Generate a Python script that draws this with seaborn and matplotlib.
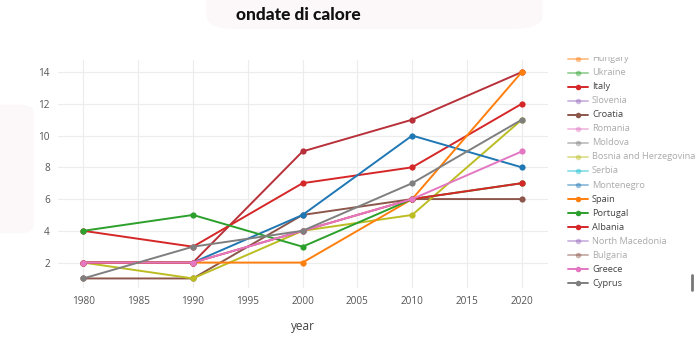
import numpy as np
import pandas as pd
import matplotlib
matplotlib.use("Agg")
import matplotlib.pyplot as plt
from matplotlib.patches import FancyBboxPatch
from matplotlib.lines import Line2D
import seaborn as sns

# ---- data -------------------------------------------------------------
years = [1980, 1990, 2000, 2010, 2020]

italy = [4, 3, 7, 8, 12]
croatia = [1, 1, 5, 6, 6]
bosnia = [2, 1, 4, 5, 11]
montenegro = [2, 2, 5, 10, 8]
spain = [2, 2, 2, 6, 14]
portugal = [4, 5, 3, 6, 7]
albania = [2, 2, 4, 6, 7]
greece = [2, 2, 4, 6, 9]
cyprus = [1, 3, 4, 7, 11]
red_extra = [2, 2, 9, 11, 14]

legend_names = ["Hungary", "Ukraine", "Italy", "Slovenia", "Croatia", "Romania",
                "Moldova", "Bosnia and Herzegovina", "Serbia", "Montenegro",
                "Spain", "Portugal", "Albania", "North Macedonia", "Bulgaria",
                "Greece", "Cyprus"]
legend_active = [False, False, True, False, True, False, False, False, False,
                 False, True, True, True, False, False, True, True]
y_ticks = [2, 4, 6, 8, 10, 12, 14]
x_ticks = [1980, 1985, 1990, 1995, 2000, 2005, 2010, 2015, 2020]

# plotly / d3 category10 cycle
c10 = ["#1f77b4", "#ff7f0e", "#2ca02c", "#d62728", "#9467bd",
       "#8c564b", "#e377c2", "#7f7f7f", "#bcbd22", "#17becf"]
legend_colors = [c10[(i + 1) % 10] for i in range(len(legend_names))]

series = {
    "red_extra": (red_extra, "#b8303a"),
    "Italy": (italy, c10[3]),
    "Croatia": (croatia, c10[5]),
    "Bosnia and Herzegovina": (bosnia, c10[8]),
    "Montenegro": (montenegro, "#1f77b4"),
    "Spain": (spain, c10[1]),
    "Portugal": (portugal, c10[2]),
    "Albania": (albania, c10[3]),
    "Greece": (greece, c10[6]),
    "Cyprus": (cyprus, c10[7]),
}

df = pd.DataFrame([
    {"year": y, "value": v, "country": name}
    for name, (vals, _) in series.items()
    for y, v in zip(years, vals)
])
order = list(series.keys())
palette = {k: c for k, (_, c) in series.items()}

# ---- figure -----------------------------------------------------------
sns.set_theme(style="whitegrid")
plt.rcParams["font.family"] = ["Open Sans", "DejaVu Sans"]

W, H = 700, 338
fig = plt.figure(figsize=(W / 100, H / 100), dpi=100)
fig.patch.set_facecolor("white")

# soft rounded panels behind the title and at the left edge
fig.patches.append(FancyBboxPatch((0.295, 0.915), 0.48, 0.12,
                                  boxstyle="round,pad=0,rounding_size=0.04",
                                  transform=fig.transFigure, facecolor="#fcf8f9",
                                  edgecolor="none", zorder=0))
fig.patches.append(FancyBboxPatch((-0.02, 0.31), 0.068, 0.38,
                                  boxstyle="round,pad=0,rounding_size=0.02",
                                  transform=fig.transFigure, facecolor="#fcf8f9",
                                  edgecolor="none", zorder=0))

ax = fig.add_axes([0.083, 0.148, 0.700, 0.674])
ax.set_facecolor("none")

sns.lineplot(data=df, x="year", y="value", hue="country", hue_order=order,
             palette=palette, marker="o", markersize=4.5, markeredgewidth=0,
             linewidth=1.4, legend=False, sort=False, ax=ax)

ax.set_xlim(1977.7, 2022.4)
ax.set_ylim(0.4, 14.75)
ax.set_xticks(x_ticks)
ax.set_yticks(y_ticks)
ax.grid(True, color="#ececec", linewidth=0.8)
for s in ax.spines.values():
    s.set_visible(False)
ax.tick_params(axis="both", labelsize=7.2, labelcolor="#555555", length=0, pad=6)
ax.set_xlabel("year", fontsize=8.5, color="#444444", labelpad=9)
ax.set_ylabel("")

fig.text(0.426, 0.955, "ondate di calore", ha="center", va="center",
         fontsize=12.5, fontweight="black", family=["Lato", "DejaVu Sans"],
         color="#111111")

# ---- legend (scrolled window, clipped at the top) ----------------------
lx0, ly_top, ly_bot = 560, 56.5, 295
lax = fig.add_axes([lx0 / W, 1 - ly_bot / H, (W - lx0) / W, (ly_bot - ly_top) / H])
lax.set_xlim(lx0, W)
lax.set_ylim(ly_bot, ly_top)
lax.axis("off")
for i, (name, col, act) in enumerate(zip(legend_names, legend_colors, legend_active)):
    y = 58.5 + i * 14.06
    a = 1.0 if act else 0.45
    lax.plot([568, 588], [y, y], color=col, lw=1.4, alpha=a, clip_on=True)
    lax.plot([578], [y], "o", color=col, markersize=4, alpha=a,
             markeredgewidth=0, clip_on=True)
    lax.text(592, y, name, fontsize=6.7, color="#444444", alpha=a,
             va="center", ha="left", clip_on=True)

# scrollbar marker
fig.add_artist(Line2D([692 / W, 692 / W], [1 - 275 / H, 1 - 290 / H],
                      transform=fig.transFigure, color="#777777", lw=2))

fig.savefig("out.png", dpi=100, facecolor="white")
